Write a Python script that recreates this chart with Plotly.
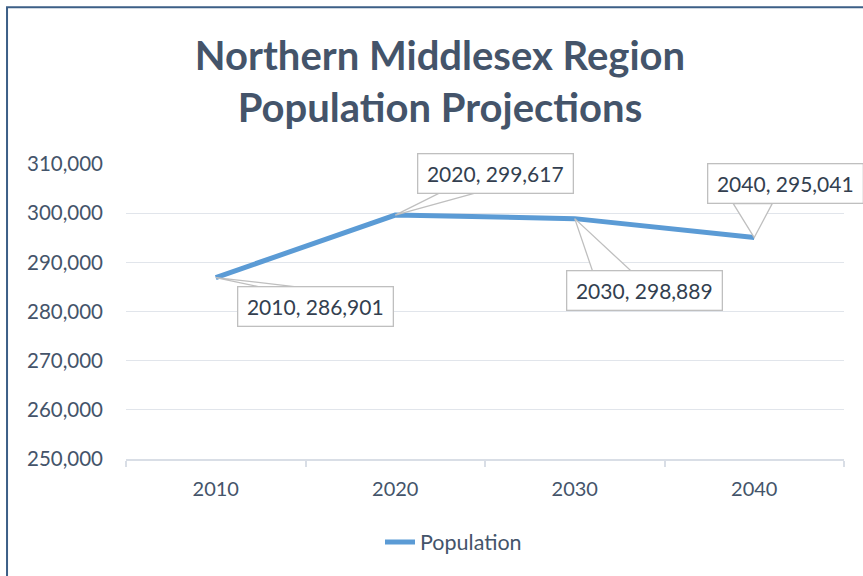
import plotly.graph_objects as go

years = ["2010", "2020", "2030", "2040"]
population = [286901, 299617, 298889, 295041]
series_name = "Population"
title_lines = ["Northern Middlesex Region", "Population Projections"]
y_ticks = [250000, 260000, 270000, 280000, 290000, 300000, 310000]

FONT = "Lato"
SLATE = "#44546A"
LABEL_TXT = "#333F50"

fig = go.Figure()
fig.add_trace(go.Scatter(
    x=years, y=population, mode="lines", name=series_name,
    line=dict(color="#5B9BD5", width=5),
))

# callout label layout: (box offset px, wedge base points px)
callouts = [
    (100, 29, [(47, -10), (87, -10)]),
    (100, -42, [(48, 24), (87, 24)]),
    (70, 72, [(18, -53), (57, -53)]),
    (31, -54, [(-21, 34), (18, 34)]),
]
for i, (yr, val, (ax, ay, wedge)) in enumerate(zip(years, population, callouts)):
    (x1, y1), (x2, y2) = wedge
    fig.add_shape(
        type="path", xref="x", yref="y",
        xsizemode="pixel", ysizemode="pixel", xanchor=i, yanchor=val,
        path=f"M 0,0 L {x1},{y1} L {x2},{y2} Z",
        fillcolor="white", line=dict(color="#BFBFBF", width=1.3), layer="above",
    )
    fig.add_annotation(
        x=i, y=val, xref="x", yref="y", ax=ax, ay=ay, showarrow=True,
        arrowcolor="rgba(0,0,0,0)", arrowwidth=0.1,
        text=f"{yr}, {val:,}", font=dict(family=FONT, size=21, color=LABEL_TXT),
        bgcolor="white", bordercolor="#BFBFBF", borderwidth=1.3,
        width=140, height=24, borderpad=7, align="center",
    )

# chart outer border
fig.add_shape(type="rect", xref="paper", yref="paper",
              x0=-0.1657, x1=1.04, y0=-0.45, y1=1.531,
              line=dict(color="#3C5F87", width=2), fillcolor="rgba(0,0,0,0)", layer="below")

fig.update_layout(
    width=863, height=576,
    margin=dict(l=126, r=19, t=164, b=117),
    paper_bgcolor="white", plot_bgcolor="white",
    title=dict(text="<b>" + "<br>".join(title_lines) + "</b>",
               font=dict(family=FONT, size=40, color=SLATE),
               x=440 / 863, xanchor="center", xref="container",
               y=1 - 70 / 576, yanchor="top", yref="container"),
    showlegend=True,
    legend=dict(orientation="h", x=(380 - 126) / 718, xanchor="left",
                y=-(542 - 459) / 295, yanchor="middle",
                font=dict(family=FONT, size=21.5, color=SLATE)),
    xaxis=dict(type="category", range=[-0.5, 3.5], showgrid=False,
               showline=True, linecolor="#D9DEE6", linewidth=2,
               ticks="outside", tickson="boundaries", ticklen=6, tickcolor="#D9DEE6", tickwidth=1.5,
               tickfont=dict(family=FONT, size=20, color=SLATE), ticklabelstandoff=11),
    yaxis=dict(range=[250000, 310000], tickvals=y_ticks, tickformat=",",
               showgrid=True, gridcolor="#E1E5EB", gridwidth=1.3, zeroline=False,
               showline=False, ticks="",
               tickfont=dict(family=FONT, size=20.5, color=SLATE), ticklabelstandoff=22),
)

fig.write_html("out.html", config={"displayModeBar": False},
               post_script="document.body.style.margin='0';")
